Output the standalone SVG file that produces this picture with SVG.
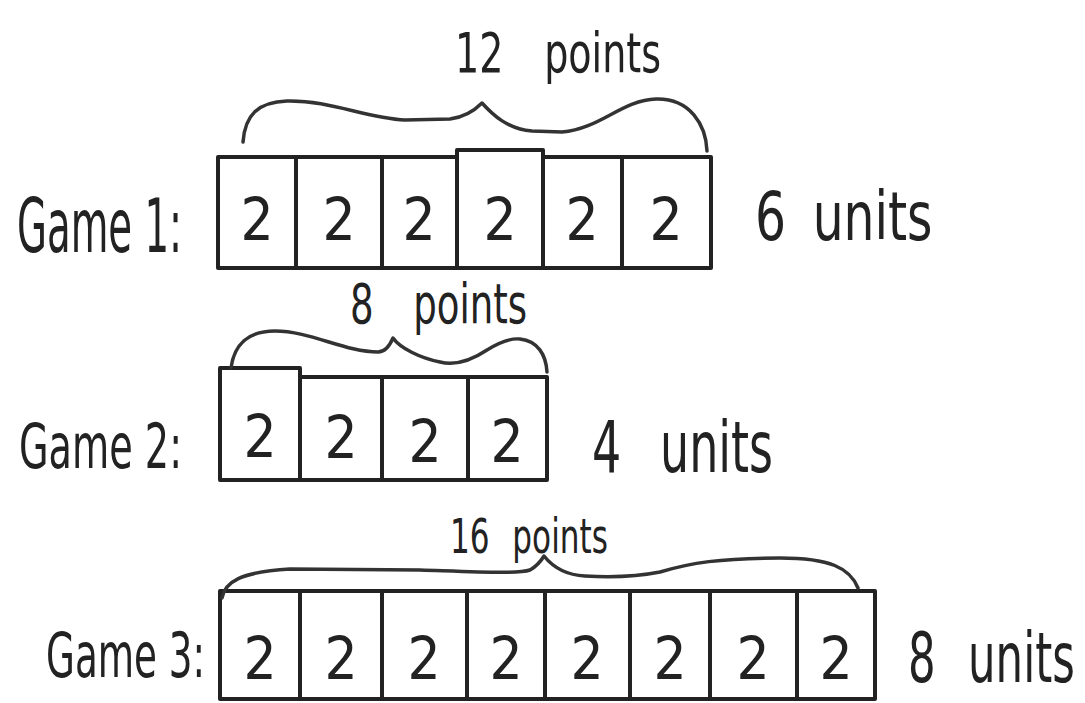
<svg xmlns="http://www.w3.org/2000/svg" width="1085" height="703" viewBox="0 0 1085 703">
<style>
.bg{fill:#ffffff}
.cell{fill:none;stroke:#222;stroke-width:4;stroke-linejoin:round}
.brace{fill:none;stroke:#333;stroke-width:3.5;stroke-linecap:round;stroke-linejoin:round}
.lbl{font-family:"DejaVu Sans Condensed","Liberation Sans Narrow","Liberation Sans",sans-serif;fill:#222}
.dig{font-family:"DejaVu Sans Condensed","Liberation Sans Narrow","Liberation Sans",sans-serif;fill:#222;font-size:58px;text-anchor:middle}
</style>
<rect class="bg" x="0" y="0" width="1085" height="703"/>

<g id="game1">
  <text class="lbl" transform="translate(17,252) scale(0.581,1)" x="0" y="0" font-size="74">Game 1:</text>
  <rect class="cell" x="218" y="157" width="78" height="111"/>
  <rect class="cell" x="296" y="157" width="86" height="111"/>
  <rect class="cell" x="382" y="157" width="75" height="111"/>
  <rect class="cell" x="457" y="150" width="86" height="118"/>
  <rect class="cell" x="543" y="157" width="79" height="111"/>
  <rect class="cell" x="622" y="157" width="89" height="111"/>
  <text class="dig" x="257" y="240">2</text>
  <text class="dig" x="339" y="240">2</text>
  <text class="dig" x="419" y="240">2</text>
  <text class="dig" x="500" y="240">2</text>
  <text class="dig" x="582" y="240">2</text>
  <text class="dig" x="666" y="240">2</text>
  <text class="lbl" transform="translate(755,240) scale(0.797,1)" x="0" y="0" font-size="68" word-spacing="14">6 units</text>
</g>

<g id="game2">
  <text class="lbl" transform="translate(19,468) scale(0.685,1)" x="0" y="0" font-size="62">Game 2:</text>
  <rect class="cell" x="220" y="368" width="80" height="112"/>
  <rect class="cell" x="300" y="377" width="82" height="103"/>
  <rect class="cell" x="382" y="377" width="86" height="103"/>
  <rect class="cell" x="468" y="377" width="79" height="103"/>
  <text class="dig" x="260" y="457">2</text>
  <text class="dig" x="341" y="458">2</text>
  <text class="dig" x="425" y="462">2</text>
  <text class="dig" x="507" y="462">2</text>
  <text class="lbl" transform="translate(592,472) scale(0.71,1)" x="0" y="0" font-size="72" word-spacing="34">4 units</text>
</g>

<g id="game3">
  <text class="lbl" transform="translate(46,677) scale(0.668,1)" x="0" y="0" font-size="62">Game 3:</text>
  <rect class="cell" x="220" y="591" width="80" height="108"/>
  <rect class="cell" x="300" y="591" width="82" height="108"/>
  <rect class="cell" x="382" y="591" width="85" height="108"/>
  <rect class="cell" x="467" y="591" width="78" height="108"/>
  <rect class="cell" x="545" y="591" width="85" height="108"/>
  <rect class="cell" x="630" y="591" width="80" height="108"/>
  <rect class="cell" x="710" y="591" width="87" height="108"/>
  <rect class="cell" x="797" y="591" width="78" height="108"/>
  <text class="dig" x="260" y="679">2</text>
  <text class="dig" x="341" y="679">2</text>
  <text class="dig" x="424" y="679">2</text>
  <text class="dig" x="506" y="679">2</text>
  <text class="dig" x="587" y="679">2</text>
  <text class="dig" x="670" y="679">2</text>
  <text class="dig" x="753" y="679">2</text>
  <text class="dig" x="836" y="679">2</text>
  <text class="lbl" transform="translate(908,682) scale(0.69,1)" x="0" y="0" font-size="70" word-spacing="27">8 units</text>
</g>

<g id="connectors">
  <path class="brace" d="M243,142 C245,115 258,102 287,101 C330,100 365,118 405,120 L450,119 C466,117 475,110 482,103 C492,114 507,129 532,131 L562,132 C600,129 622,100 656,99 C690,98 706,125 707,151"/>
  <path class="brace" d="M231,368 C234,345 248,331 275,331 C310,331 345,352 378,352 C386,352 390,345 393,338 C400,348 420,358 440,362 C456,366 472,360 487,350 C500,342 510,338 520,339 C538,341 546,355 547,372"/>
  <path class="brace" d="M222,598 C225,582 240,572 290,569 L420,570 C480,572 518,574 530,570 C537,566 541,561 544,556 C552,566 565,575 585,576 C620,578 640,576 660,572 C690,563 720,558 780,558 C830,558 850,568 858,588"/>
</g>

<g id="labels">
  <text class="lbl" transform="translate(455,72) scale(0.755,1)" x="0" y="0" font-size="56" word-spacing="38">12 points</text>
  <text class="lbl" transform="translate(350,323) scale(0.75,1)" x="0" y="0" font-size="55" word-spacing="37">8 points</text>
  <text class="lbl" transform="translate(450,553) scale(0.72,1)" x="0" y="0" font-size="48" word-spacing="18">16 points</text>
</g>
</svg>
